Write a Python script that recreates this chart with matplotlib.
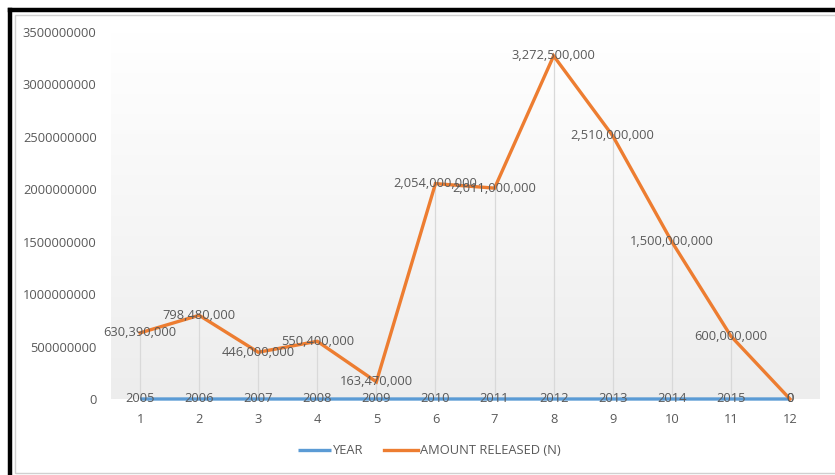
import numpy as np
import matplotlib
matplotlib.use("Agg")
import matplotlib.pyplot as plt
from matplotlib.patches import Rectangle
from matplotlib.lines import Line2D

plt.rcParams['font.family'] = ['Open Sans', 'DejaVu Sans']

# Data
categories = [1, 2, 3, 4, 5, 6, 7, 8, 9, 10, 11, 12]
years = [2005, 2006, 2007, 2008, 2009, 2010, 2011, 2012, 2013, 2014, 2015, 0]
amount_released = [630390000, 798480000, 446000000, 550400000, 163470000,
                   2054000000, 2011000000, 3272500000, 2510000000,
                   1500000000, 600000000, 0]
y_ticks = [0, 500000000, 1000000000, 1500000000, 2000000000,
           2500000000, 3000000000, 3500000000]

BLUE = "#5B9BD5"
ORANGE = "#ED7D31"
TEXT = "#595959"
FS = 9.3

W, H = 835, 475
fig = plt.figure(figsize=(W / 100, H / 100), dpi=100)
fig.patch.set_facecolor("white")

# Frame: light chart-area border and heavy black outline
fig.patches.append(Rectangle((15 / W, 2 / H), (W + 20) / W, (H - 17) / H,
                             transform=fig.transFigure, fill=False,
                             edgecolor="#d0d0d0", linewidth=1.0))
fig.add_artist(Line2D([10 / W, 1.02], [1 - 10 / H, 1 - 10 / H],
                      transform=fig.transFigure, color="black", linewidth=3.2))
fig.add_artist(Line2D([10 / W, 10 / W], [1 - 10 / H, -0.02],
                      transform=fig.transFigure, color="black", linewidth=3.2))

ax = fig.add_axes([110.5 / W, 1 - 399 / H, 709 / W, (399 - 32) / H])
ax.set_xlim(0.5, 12.5)
ax.set_ylim(0, 3500000000)
ax.set_facecolor("white")

# Plot-area gradient (white at top, light grey at bottom)
cmap = matplotlib.colors.LinearSegmentedColormap.from_list(
    "pa", ["#ededed", "#ffffff"])
ax.imshow(np.linspace(0, 1, 256).reshape(-1, 1),
          extent=[0.5, 12.5, 0, 3500000000], aspect="auto",
          cmap=cmap, origin="lower", zorder=0, interpolation="bilinear")

# Drop lines from each amount down to the axis
ax.vlines(categories, 0, amount_released, color="#d9d9d9", linewidth=0.9, zorder=1)

ax.plot(categories, years, color=BLUE, linewidth=2.4, solid_capstyle="butt",
        zorder=3, clip_on=False, label="YEAR")
ax.plot(categories, amount_released, color=ORANGE, linewidth=2.4,
        solid_joinstyle="miter", zorder=4, clip_on=False,
        label="AMOUNT RELEASED (N)")

for x, v in zip(categories, years):
    ax.text(x, v, f"{v}", ha="center", va="center", fontsize=FS,
            color=TEXT, zorder=5)
for x, v in zip(categories, amount_released):
    ax.text(x, v, f"{v:,}", ha="center", va="center", fontsize=FS,
            color=TEXT, zorder=5)

ax.set_xticks(categories)
ax.set_xticklabels([str(c) for c in categories])
ax.set_yticks(y_ticks)
ax.set_yticklabels([str(t) for t in y_ticks])
ax.tick_params(axis="both", length=0, labelsize=FS, labelcolor=TEXT)
ax.tick_params(axis="x", pad=10)
ax.tick_params(axis="y", pad=10)
for s in ax.spines.values():
    s.set_visible(False)

leg = ax.legend(loc="center", bbox_to_anchor=(429 / W, 1 - 451 / H),
                bbox_transform=fig.transFigure, ncol=2, frameon=False,
                fontsize=FS, handlelength=2.6, columnspacing=1.6,
                handletextpad=0.15)
for t in leg.get_texts():
    t.set_color(TEXT)

fig.savefig("out.png", dpi=100)
